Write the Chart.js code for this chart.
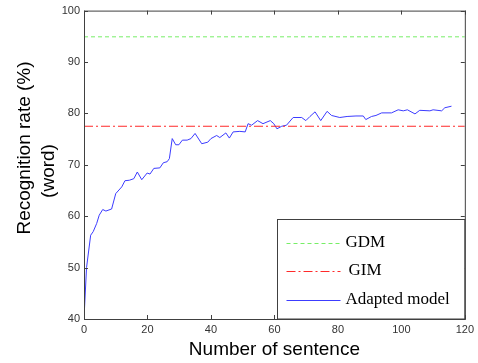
<!DOCTYPE html>
<html>
<head>
<meta charset="utf-8">
<script src="https://cdn.jsdelivr.net/npm/chart.js@4.4.1/dist/chart.umd.min.js"></script>
<style>
  html, body { margin: 0; padding: 0; background: #fff; }
  #wrap { width: 478px; height: 363px; }
</style>
</head>
<body>
<div id="wrap"><canvas id="chart1"></canvas></div>
<script>
(function(){
  'use strict';

  // reference levels
  var gdmRate = 94.9;
  var gimRate = 77.5;

  // adapted model curve
  var sentences = [0, 0.8, 2.1, 2.9, 4, 4.8, 5.9, 6.9, 8.7, 10, 11.9, 12.9, 14.3, 15.7, 16.8, 18.2, 19.9, 20.8,
    22, 23.9, 25, 26.2, 26.9, 27.8, 28.9, 29.9, 31, 32.5, 33.7, 35, 37.1, 39, 40, 41.8, 42.8, 44.7, 45.8,
    47, 49.1, 50.8, 51.7, 52.8, 54.7, 56.4, 58.7, 59.8, 60.8, 62.3, 63.8, 65.9, 68.6, 69.9, 71.2, 72.8,
    74.6, 76.6, 78, 80.6, 82.9, 85.7, 88, 88.8, 90.6, 92, 93.8, 96.9, 99, 100.6, 101.9, 104.3, 105.8,
    109, 110, 112.7, 113.7, 115.8];
  var adapted = [40.1, 50, 56.3, 57.0, 58.6, 60.2, 61.3, 61.0, 61.4, 64.4, 65.7, 66.9, 67.0, 67.3, 68.6, 67.1, 68.4, 68.2,
    69.3, 69.4, 70.4, 70.6, 71.2, 75.1, 73.9, 73.9, 74.8, 74.8, 75.1, 76.1, 74.1, 74.4, 75.1, 75.7, 75.3, 76.2, 75.2,
    76.4, 76.5, 76.4, 78.0, 77.7, 78.6, 78.0, 78.6, 78.0, 77.0, 77.5, 77.7, 79.2, 79.2, 78.6, 79.4, 80.3,
    78.6, 80.4, 79.6, 79.2, 79.4, 79.5, 79.5, 78.8, 79.4, 79.6, 80.1, 80.1, 80.7, 80.5, 80.7, 79.9, 80.6,
    80.5, 80.7, 80.5, 81.1, 81.4];

  var xRange = [0, 120];
  var yRange = [40, 100];
  var xTicks = [0, 20, 40, 60, 80, 100, 120];
  var yTicks = [40, 50, 60, 70, 80, 90, 100];
  var legendLabels = ['GDM', 'GIM', 'Adapted model'];
  var yTitleLines = ['Recognition rate (%)', '(word)'];

  var lineColors = ['#77ee66', '#ff2a2a', '#3c3cff'];
  var axisColor = '#404040';
  var tickFont = { family: 'Liberation Sans', size: 11 };

  var c1 = document.getElementById('chart1');

  var boxPlugin = {
    id: 'matlabBox',
    afterDraw: function(chart) {
      var ctx = chart.ctx;
      var a = chart.chartArea;
      var xs = chart.scales.x, ys = chart.scales.y;
      ctx.save();
      ctx.strokeStyle = axisColor;
      ctx.lineWidth = 1;
      ctx.beginPath();
      xTicks.forEach(function(v) {
        var px = Math.round(xs.getPixelForValue(v)) + 0.5;
        ctx.moveTo(px, a.bottom); ctx.lineTo(px, a.bottom - 4);
        ctx.moveTo(px, a.top); ctx.lineTo(px, a.top + 4);
      });
      yTicks.forEach(function(v) {
        var py = Math.round(ys.getPixelForValue(v)) + 0.5;
        ctx.moveTo(a.left, py); ctx.lineTo(a.left + 4, py);
        ctx.moveTo(a.right, py); ctx.lineTo(a.right - 4, py);
      });
      ctx.stroke();

      // legend box inside the lower right corner
      var lx = Math.round(xs.getPixelForValue(60.7)) + 0.5;
      var ly = 219.5;
      ctx.fillStyle = '#fff';
      ctx.fillRect(lx, ly, a.right - lx, a.bottom - ly);
      ctx.strokeRect(lx, ly, a.right - lx, a.bottom - ly);
      var rows = [243, 271, 300];
      ctx.font = '17px "Liberation Serif"';
      ctx.textBaseline = 'middle';
      ctx.textAlign = 'left';
      chart.data.datasets.forEach(function(ds, i) {
        ctx.strokeStyle = lineColors[i];
        ctx.setLineDash(ds.borderDash || []);
        ctx.beginPath();
        ctx.moveTo(lx + 9, rows[i] + 0.5);
        ctx.lineTo(lx + 63, rows[i] + 0.5);
        ctx.stroke();
        ctx.setLineDash([]);
        ctx.fillStyle = '#000';
        ctx.fillText(legendLabels[i], lx + 68 + (i === 1 ? 3 : 0), rows[i]);
      });

      ctx.strokeStyle = axisColor;
      ctx.strokeRect(a.left + 0.5, a.top + 0.5, a.right - a.left, a.bottom - a.top);

      // y axis title, two lines
      ctx.fillStyle = '#000';
      ctx.font = '19px "Liberation Sans"';
      ctx.textAlign = 'center';
      ctx.textBaseline = 'middle';
      ctx.translate(25, 148);
      ctx.rotate(-Math.PI / 2);
      ctx.fillText(yTitleLines[0], 0, 0);
      ctx.fillText(yTitleLines[1], -23, 24);
      ctx.restore();
    }
  };

  var chart1 = new Chart(c1, {
    type: 'line',
    data: {
      datasets: [{
        label: legendLabels[0],
        data: xRange.map(function(x) { return { x: x, y: gdmRate }; }),
        borderColor: lineColors[0],
        borderWidth: 1,
        borderDash: [4, 3],
        pointRadius: 0
      }, {
        label: legendLabels[1],
        data: xRange.map(function(x) { return { x: x, y: gimRate }; }),
        borderColor: lineColors[1],
        borderWidth: 1,
        borderDash: [9, 3, 2, 3],
        pointRadius: 0
      }, {
        label: legendLabels[2],
        data: sentences.map(function(x, i) { return { x: x, y: adapted[i] }; }),
        borderColor: lineColors[2],
        borderWidth: 1,
        pointRadius: 0,
        tension: 0
      }]
    },
    options: {
      responsive: true,
      maintainAspectRatio: false,
      animation: false,
      devicePixelRatio: 1,
      layout: { padding: { top: 10, right: 13, left: 0, bottom: 0 } },
      plugins: {
        legend: { display: false },
        tooltip: { enabled: false }
      },
      scales: {
        x: {
          type: 'linear',
          min: xRange[0],
          max: xRange[1],
          afterBuildTicks: function(scale) {
            scale.ticks = xTicks.map(function(v) { return { value: v }; });
          },
          afterFit: function(scale) { scale.height = 44; },
          grid: { display: false, drawTicks: false },
          border: { display: false },
          ticks: { color: '#333', font: tickFont, padding: 4, maxRotation: 0 },
          title: {
            display: true,
            text: 'Number of sentence',
            color: '#000',
            font: { family: 'Liberation Sans', size: 19 },
            padding: { top: 0, bottom: 2 }
          }
        },
        y: {
          type: 'linear',
          min: yRange[0],
          max: yRange[1],
          afterBuildTicks: function(scale) {
            scale.ticks = yTicks.map(function(v) { return { value: v }; });
          },
          afterFit: function(scale) { scale.width = 84; },
          grid: { display: false, drawTicks: false },
          border: { display: false },
          ticks: { color: '#333', font: tickFont, padding: 4 },
          title: { display: false }
        }
      }
    },
    plugins: [boxPlugin]
  });

}());
</script>
</body>
</html>
